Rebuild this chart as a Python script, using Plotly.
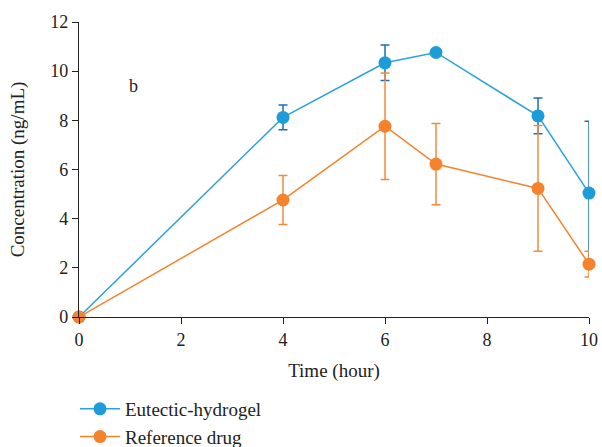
import plotly.graph_objects as go

time_h = [0, 4, 6, 7, 9, 10]
hydrogel = [0, 8.12, 10.34, 10.76, 8.18, 5.04]
hydrogel_err = [0, 0.5, 0.72, 0.1, 0.73, 2.92]
reference = [0, 4.76, 7.76, 6.22, 5.23, 2.15]
reference_err = [0, 1.0, 2.17, 1.65, 2.56, 0.52]

font_family = "Liberation Serif"

fig = go.Figure()
fig.add_trace(go.Scatter(
    x=time_h, y=hydrogel, name="Eutectic-hydrogel", mode="lines+markers",
    line=dict(color="#2ba2de", width=1.5),
    marker=dict(color="#1c9cd9", size=13),
    error_y=dict(type="data", array=hydrogel_err, color="#1d70b6", thickness=1.5, width=4.5),
    cliponaxis=False,
))
fig.add_trace(go.Scatter(
    x=time_h, y=reference, name="Reference drug", mode="lines+markers",
    line=dict(color="#f5822c", width=1.5),
    marker=dict(color="#f5822c", size=13),
    error_y=dict(type="data", array=reference_err, color="#f58a3c", thickness=1.5, width=4.5),
    cliponaxis=False,
))

fig.add_annotation(x=1.06, y=9.4, text="b", showarrow=False,
                   font=dict(family=font_family, size=18, color="#222"))

axis_common = dict(
    showline=True, linecolor="#222", linewidth=1.2, ticks="outside", ticklen=6,
    tickcolor="#222", showgrid=False, zeroline=False,
    tickfont=dict(family=font_family, size=18, color="#222"),
)
fig.update_xaxes(range=[0, 10], tickvals=[0, 2, 4, 6, 8, 10], automargin=False,
                 title=dict(text="Time (hour)", font=dict(family=font_family, size=19, color="#222"), standoff=14),
                 **axis_common)
fig.update_yaxes(range=[0, 12], tickvals=[0, 2, 4, 6, 8, 10, 12], automargin=True,
                 title=dict(text="Concentration (ng/mL)", font=dict(family=font_family, size=19, color="#222"), standoff=20),
                 **axis_common)

fig.update_layout(
    width=602, height=447,
    margin=dict(l=79, r=13, t=22, b=130),
    plot_bgcolor="white", paper_bgcolor="white",
    font=dict(family=font_family, color="#222"),
    legend=dict(x=75 / 602, y=1 - 390 / 447, xref="container", yref="container",
                xanchor="left", yanchor="top", orientation="h",
                entrywidth=0.95, entrywidthmode="fraction",
                font=dict(family=font_family, size=19, color="#222"),
                tracegroupgap=0, itemwidth=40),
)

fig.write_html("out.html")
